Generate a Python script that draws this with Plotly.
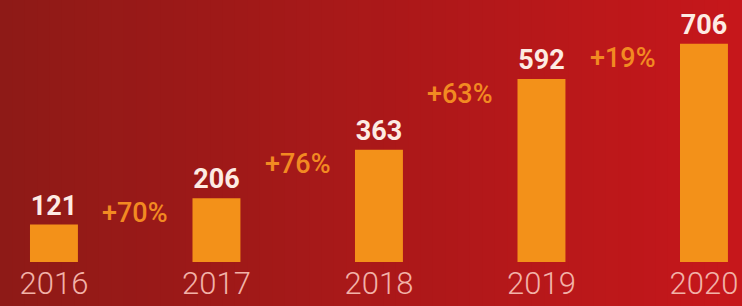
import plotly.graph_objects as go

years = ["2016", "2017", "2018", "2019", "2020"]
values = [121, 206, 363, 592, 706]
growth = ["+70%", "+76%", "+63%", "+19%"]

fig = go.Figure()
fig.add_trace(go.Bar(
    x=list(range(len(years))), y=values,
    marker=dict(color="#f39119", line=dict(width=0)),
    width=0.295,
    text=[str(v) for v in values], textposition="outside",
    textfont=dict(family="Roboto", size=27, color="#fdebe3", weight="bold"),
    cliponaxis=False, hoverinfo="skip",
))

# gradient background
n = 60
c0 = (0x8e, 0x1a, 0x17)
c1 = (0xc6, 0x17, 0x1b)
for i in range(n):
    t = i / (n - 1)
    col = "rgb(%d,%d,%d)" % tuple(round(a + (b - a) * t) for a, b in zip(c0, c1))
    fig.add_shape(type="rect", xref="paper", yref="paper",
                  x0=i / n, x1=(i + 1) / n + 0.002, y0=-1, y1=1.2,
                  fillcolor=col, line=dict(width=0), layer="below")

for i, g in enumerate(growth):
    fig.add_annotation(x=i + 0.5, y=values[i + 1] - 47, text=g, showarrow=False,
                       font=dict(family="Roboto", size=27, color="#f28a22", weight=500))

fig.update_layout(
    width=742, height=306,
    margin=dict(l=0, r=0, t=0, b=44),
    paper_bgcolor="#a51a18", plot_bgcolor="rgba(0,0,0,0)",
    showlegend=False,
    xaxis=dict(range=[-0.332, 4.234], tickvals=list(range(len(years))), ticktext=years,
               showgrid=False, zeroline=False, showline=False, ticks="",
               tickfont=dict(family="Roboto", size=31, color="#f2b2a8", weight=300)),
    yaxis=dict(range=[0, 848], visible=False, showgrid=False),
)
fig.write_html("out.html", config={"displayModeBar": False},
               post_script="document.body.style.margin='0';document.body.style.overflow='hidden';")
